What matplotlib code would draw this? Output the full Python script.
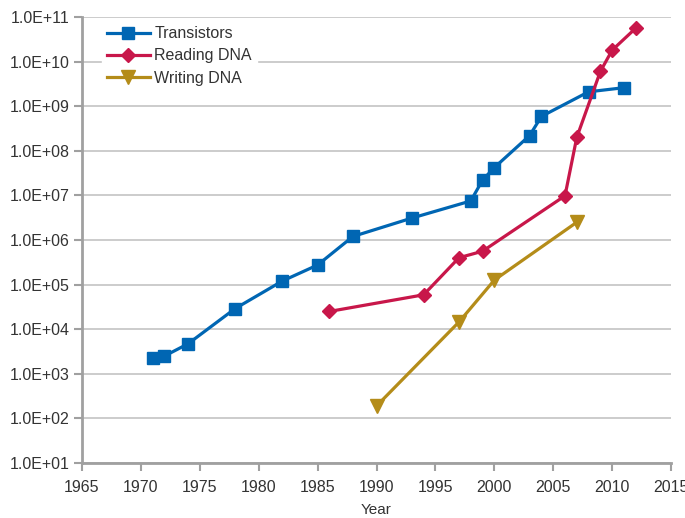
import math
import matplotlib
matplotlib.use('Agg')
from matplotlib import pyplot as plt
from matplotlib.ticker import FixedLocator, FuncFormatter

plt.rcParams['font.family'] = ['Liberation Sans', 'DejaVu Sans']

# transistor counts per chip
trans_years = [1971, 1972, 1974, 1978, 1982, 1985, 1988, 1993, 1998, 1999, 2000, 2003, 2004, 2008, 2011]
trans_vals = [2300, 2500, 4700, 29000, 120000, 275000, 1.2e6, 3.1e6, 7.5e6, 2.2e7, 4.2e7,
              2.2e8, 5.9e8, 2.1e9, 2.6e9]

# DNA reading throughput
read_years = [1986, 1994, 1997, 1999, 2006, 2007, 2009, 2010, 2012]
read_vals = [25000, 59000, 4.0e5, 5.6e5, 9.8e6, 2.0e8, 6.0e9, 1.8e10, 5.6e10]

# DNA writing throughput
write_years = [1990, 1997, 2000, 2007]
write_vals = [190, 14500, 1.26e5, 2.5e6]

blue = '#0066b3'
red = '#c8174a'
gold = '#b48c19'
axis_gray = '#a0a0a0'
text_col = '#333333'

fig = plt.figure(figsize=(6.85, 5.18), dpi=100)
ax = fig.add_axes([0.1197, 0.1062, 0.8599, 0.8610])

ax.plot(trans_years, trans_vals, color=blue, lw=2.3, marker='s', ms=8, label='Transistors', zorder=3)
ax.plot(read_years, read_vals, color=red, lw=2.3, marker='D', ms=7.5, label='Reading DNA', zorder=4)
ax.plot(write_years, write_vals, color=gold, lw=2.3, marker='v', ms=9.5, label='Writing DNA', zorder=3)

ax.set_yscale('log')
ax.set_ylim(10, 1e11)
ax.set_xlim(1965, 2015)
ax.xaxis.set_major_locator(FixedLocator(range(1965, 2016, 5)))
ax.yaxis.set_major_locator(FixedLocator([10.0 ** k for k in range(1, 12)]))
ax.yaxis.set_minor_locator(FixedLocator([]))
ax.yaxis.set_major_formatter(FuncFormatter(lambda v, p: '1.0E+%02d' % round(math.log10(v))))

ax.grid(axis='y', color='#c8c8c8', lw=1.3)
ax.set_axisbelow(True)
for s in ['top', 'right']:
    ax.spines[s].set_visible(False)
for s in ['left', 'bottom']:
    ax.spines[s].set_color(axis_gray)
    ax.spines[s].set_linewidth(2)
ax.tick_params(axis='both', colors=axis_gray, width=1.5, length=6, labelsize=11.5, labelcolor=text_col)
ax.tick_params(axis='y', pad=3)
ax.tick_params(axis='x', pad=6)

ax.set_xlabel('Year', fontsize=11, color=text_col, labelpad=6)

leg = ax.legend(loc='upper left', bbox_to_anchor=(0.02, 1.008), frameon=True, fontsize=11.5,
                handlelength=2.7, borderpad=0.3, labelspacing=0.45, handletextpad=0.3)
leg.get_frame().set_edgecolor('white')
leg.get_frame().set_facecolor('white')
leg.get_frame().set_alpha(1)
leg.get_frame().set_boxstyle('square', pad=0)
for t in leg.get_texts():
    t.set_color(text_col)

fig.savefig('out.png', dpi=100)
